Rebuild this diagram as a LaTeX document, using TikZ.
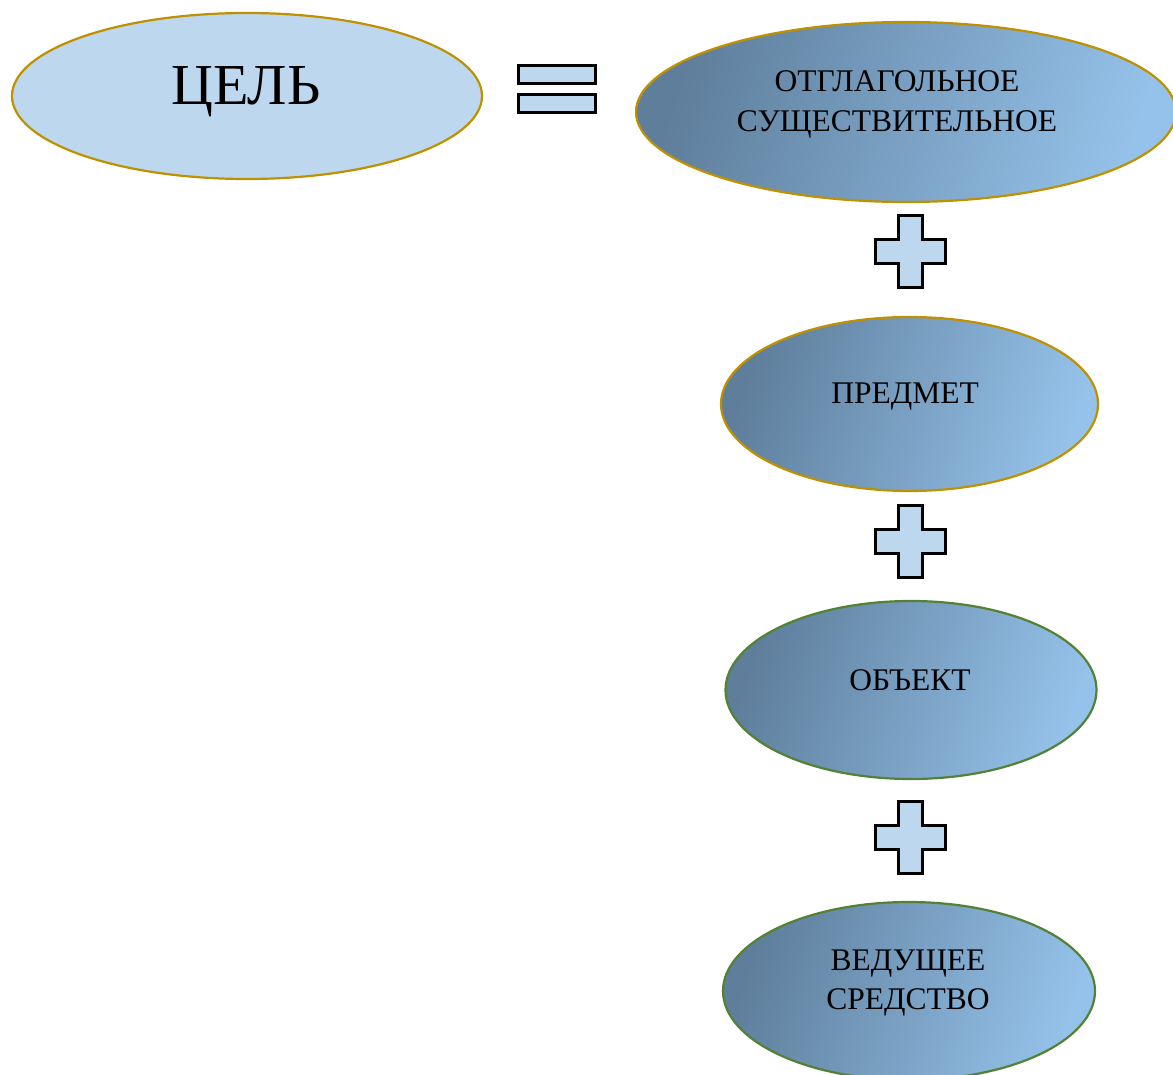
\documentclass[tikz,border=0pt]{standalone}
\usepackage{fontspec}
\setmainfont{Liberation Serif}
\usetikzlibrary{shapes.geometric}
\definecolor{lblue}{HTML}{BDD7EE}
\definecolor{gold}{HTML}{BF9000}
\definecolor{grn}{HTML}{538135}
\definecolor{shdark}{HTML}{5E7E9B}
\definecolor{shlight}{HTML}{95C2EA}
\tikzset{
  plainell/.style={ellipse, draw=gold, line width=2.2pt, fill=lblue, inner sep=0pt},
  gradell/.style={ellipse, line width=2.2pt, inner sep=0pt, left color=shdark, right color=shlight, shading angle=72},
  goldb/.style={draw=gold},
  greenb/.style={draw=grn},
  txt/.style={anchor=base, inner sep=0pt, font=\fontsize{31.5}{40}\selectfont},
  bigtxt/.style={anchor=base, inner sep=0pt, font=\fontsize{58}{64}\selectfont},
  signbox/.style={draw=black, line width=3pt, fill=lblue, line join=miter},
}
\begin{document}
\begin{tikzpicture}[x=1pt,y=-1pt]
\useasboundingbox (0,0) rectangle (1173,1075);
\clip (0,0) rectangle (1173,1075);
% goal
\node[plainell, minimum width=470pt, minimum height=166pt] (goal) at (247,96) {};
\node[bigtxt] (goalt) at (246,105) {ЦЕЛЬ};
% equals sign
\node[signbox, minimum width=77pt, minimum height=18pt, inner sep=0pt] (eqa) at (557,74.5) {};
\node[signbox, minimum width=77pt, minimum height=18pt, inner sep=0pt] (eqb) at (557,103.5) {};
% noun
\node[gradell, goldb, minimum width=540pt, minimum height=180pt] (noun) at (906,112) {};
\node[txt] (nouna) at (897,92) {ОТГЛАГОЛЬНОЕ};
\node[txt] (nounb) at (897,132) {СУЩЕСТВИТЕЛЬНОЕ};
% subject
\node[gradell, goldb, minimum width=377pt, minimum height=174pt] (subj) at (909.5,404) {};
\node[txt] (subjt) at (905,403) {ПРЕДМЕТ};
% object
\node[gradell, greenb, minimum width=371pt, minimum height=178pt] (obj) at (911,690) {};
\node[txt] (objt) at (910,690) {ОБЪЕКТ};
% means
\node[gradell, greenb, minimum width=372pt, minimum height=178pt] (means) at (909,991) {};
\node[txt] (meansa) at (908,970) {ВЕДУЩЕЕ};
\node[txt] (meansb) at (908,1009) {СРЕДСТВО};
% plus signs
\coordinate (p1) at (910,252);
\coordinate (p2) at (910,541);
\coordinate (p3) at (910,837);
\foreach \p in {p1,p2,p3}{
  \draw[signbox, shift={(\p)}] (-12,-36) -- (12,-36) -- (12,-12) -- (35,-12) -- (35,12) -- (12,12) -- (12,36) -- (-12,36) -- (-12,12) -- (-35,12) -- (-35,-12) -- (-12,-12) -- cycle;
}
\end{tikzpicture}
\end{document}
